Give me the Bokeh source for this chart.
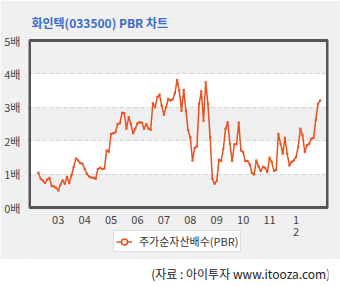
import pandas as pd
from bokeh.plotting import figure
from bokeh.models import FixedTicker, Range1d, Legend, LegendItem, Label, ColumnDataSource
from bokeh.layouts import column
from bokeh.embed import file_html
from bokeh.resources import INLINE
from bokeh.core.properties import value

title_text = "화인텍(033500) PBR 차트"
series_name = "주가순자산배수(PBR)"
source_text = "(자료 : 아이투자 www.itooza.com)"

start_month = "2002-04"
pbr = [
    1.04, 0.86, 0.81, 0.73, 0.84, 0.88, 0.65, 0.63, 0.59,
    0.51, 0.68, 0.81, 0.71, 0.91, 0.73, 0.96, 1.21, 1.47, 1.41, 1.33, 1.31,
    1.16, 1.01, 0.93, 0.90, 0.89, 0.86, 1.15, 1.19, 1.15, 1.17, 1.71, 1.67,
    2.20, 2.22, 2.25, 2.50, 2.52, 2.84, 2.82, 2.36, 2.70, 2.50, 2.22, 2.36,
    2.52, 2.55, 2.54, 2.36, 2.50, 2.36, 2.33, 3.12, 3.00, 3.30, 3.38, 3.05,
    2.78, 3.00, 3.25, 3.20, 3.24, 3.42, 3.82, 3.50, 2.90, 3.52, 2.90, 2.31,
    2.10, 1.41, 1.79, 1.83, 3.10, 3.48, 2.60, 3.75, 3.10, 2.10, 0.86, 0.71,
    0.79, 1.43, 1.39, 1.76, 2.36, 2.55, 1.91, 1.39, 1.89, 1.89, 2.54, 1.71,
    1.66, 1.39, 1.39, 1.29, 1.03, 0.99, 1.41, 1.23, 1.09, 1.21, 1.19, 1.06,
    1.49, 1.36, 1.09, 1.13, 2.20, 1.91, 1.61, 2.09, 1.61, 1.26, 1.36, 1.41,
    1.51, 1.81, 2.36, 2.16, 1.66, 1.86, 1.91, 2.06, 2.09, 2.63, 3.10, 3.20,
]
year_ticks = [2003, 2004, 2005, 2006, 2007, 2008, 2009, 2010, 2011, 2012]
year_labels = ["03", "04", "05", "06", "07", "08", "09", "10", "11", "1\n2"]
y_ticks = [0, 1, 2, 3, 4, 5]
y_labels = ["0배", "1배", "2배", "3배", "4배", "5배"]

months = pd.period_range(start_month, periods=len(pbr), freq="M")
xs = [m.year + (m.month - 1) / 12 for m in months]
src = ColumnDataSource(dict(x=xs, y=pbr))

FONT = "Noto Sans CJK KR"
LINE_COLOR = "#e8501e"
PANEL = "#f0f0f0"

# plot-area bounds (the dark framed box) in data units
X0, X1 = 2001.913, 2013.193
Y0, Y1 = 0, 5
PX_PER_Y = 33.4
FRAME_TOP, FRAME_BOTTOM = 37, 259
y_top = Y1 + (40 - FRAME_TOP) / PX_PER_Y
y_bot = y_top - (FRAME_BOTTOM - FRAME_TOP) / PX_PER_Y

p = figure(width=340, height=259, x_range=Range1d(2001.875, 2013.231), y_range=Range1d(y_bot, y_top),
           output_backend="svg", toolbar_location=None,
           min_border_left=28, min_border_right=12, min_border_top=FRAME_TOP, min_border_bottom=0,
           border_fill_color=PANEL, background_fill_color=PANEL, outline_line_color=None)

p.title.text = title_text
p.title.text_font = FONT
p.title.text_font_size = "12px"
p.title.text_color = "#3a6cc8"
p.title.text_font_style = "bold"
p.title.offset = 3
p.title.standoff = 13

# white plot area
p.quad(left=[X0], right=[X1], bottom=[Y0], top=[Y1], fill_color="white", line_color=None, level="image")

p.xaxis.visible = False
p.yaxis.ticker = FixedTicker(ticks=y_ticks)
p.yaxis.major_label_overrides = dict(zip(y_ticks, y_labels))
p.yaxis.axis_line_color = None
p.yaxis.major_tick_line_color = None
p.yaxis.minor_tick_line_color = None
p.yaxis.major_tick_out = 0
p.yaxis.major_tick_in = 0
p.yaxis.major_label_text_font = FONT
p.yaxis.major_label_text_font_size = "11px"
p.yaxis.major_label_text_color = "#444444"
p.yaxis.major_label_standoff = 8

p.xgrid.visible = False
p.ygrid.ticker = FixedTicker(ticks=y_ticks)
p.ygrid.grid_line_color = "#cdd5cd"
p.ygrid.grid_line_dash = "4 3"
p.ygrid.band_fill_color = "#efefef"
p.ygrid.band_fill_alpha = 1

line_r = p.line("x", "y", source=src, line_color=LINE_COLOR, line_width=1.5)
marker_r = p.scatter("x", "y", source=src, marker="circle", size=1, fill_color="white",
                     line_color=LINE_COLOR, line_width=1.5)

# frame border of the plot area
p.quad(left=[X0], right=[X1], bottom=[Y0], top=[Y1], fill_alpha=0, line_color="#555555", line_width=3)

# x tick labels (year) below the plot area; wrapped labels are lifted to align their first line
label_top = Y0 - 8 / PX_PER_Y
lab_src = ColumnDataSource(dict(
    x=year_ticks,
    y=[label_top] * len(year_ticks),
    text=year_labels,
    dy=[-5 if "\n" in t else 0 for t in year_labels],
))
p.text(x="x", y="y", text="text", y_offset="dy", source=lab_src,
       text_font=value(FONT), text_font_size="11px", text_color="#444444",
       text_align="center", text_baseline="top", text_line_height=0.75)

legend = Legend(items=[LegendItem(label=series_name, renderers=[line_r, marker_r])],
                location=(85, 7), orientation="horizontal",
                border_line_color="#bbbbbb", background_fill_color="white", background_fill_alpha=1,
                label_text_font=FONT, label_text_font_size="11px", label_text_color="#333333",
                glyph_width=16, glyph_height=15, label_standoff=7, padding=2, spacing=0,
                label_height=13, margin=0)
p.add_layout(legend)

f = figure(width=340, height=27, x_range=Range1d(0, 340), y_range=Range1d(0, 27),
           output_backend="svg", toolbar_location=None, min_border=0,
           border_fill_color="white", background_fill_color="white", outline_line_color=None)
f.xaxis.visible = False
f.yaxis.visible = False
f.xgrid.visible = False
f.ygrid.visible = False
f.add_layout(Label(x=342, y=5, text=source_text, text_align="right", text_font=FONT,
                   text_font_size="12px", text_color="#222222"))

layout = column(p, f, spacing=0)
open("out.html", "w").write(file_html(layout, INLINE))
